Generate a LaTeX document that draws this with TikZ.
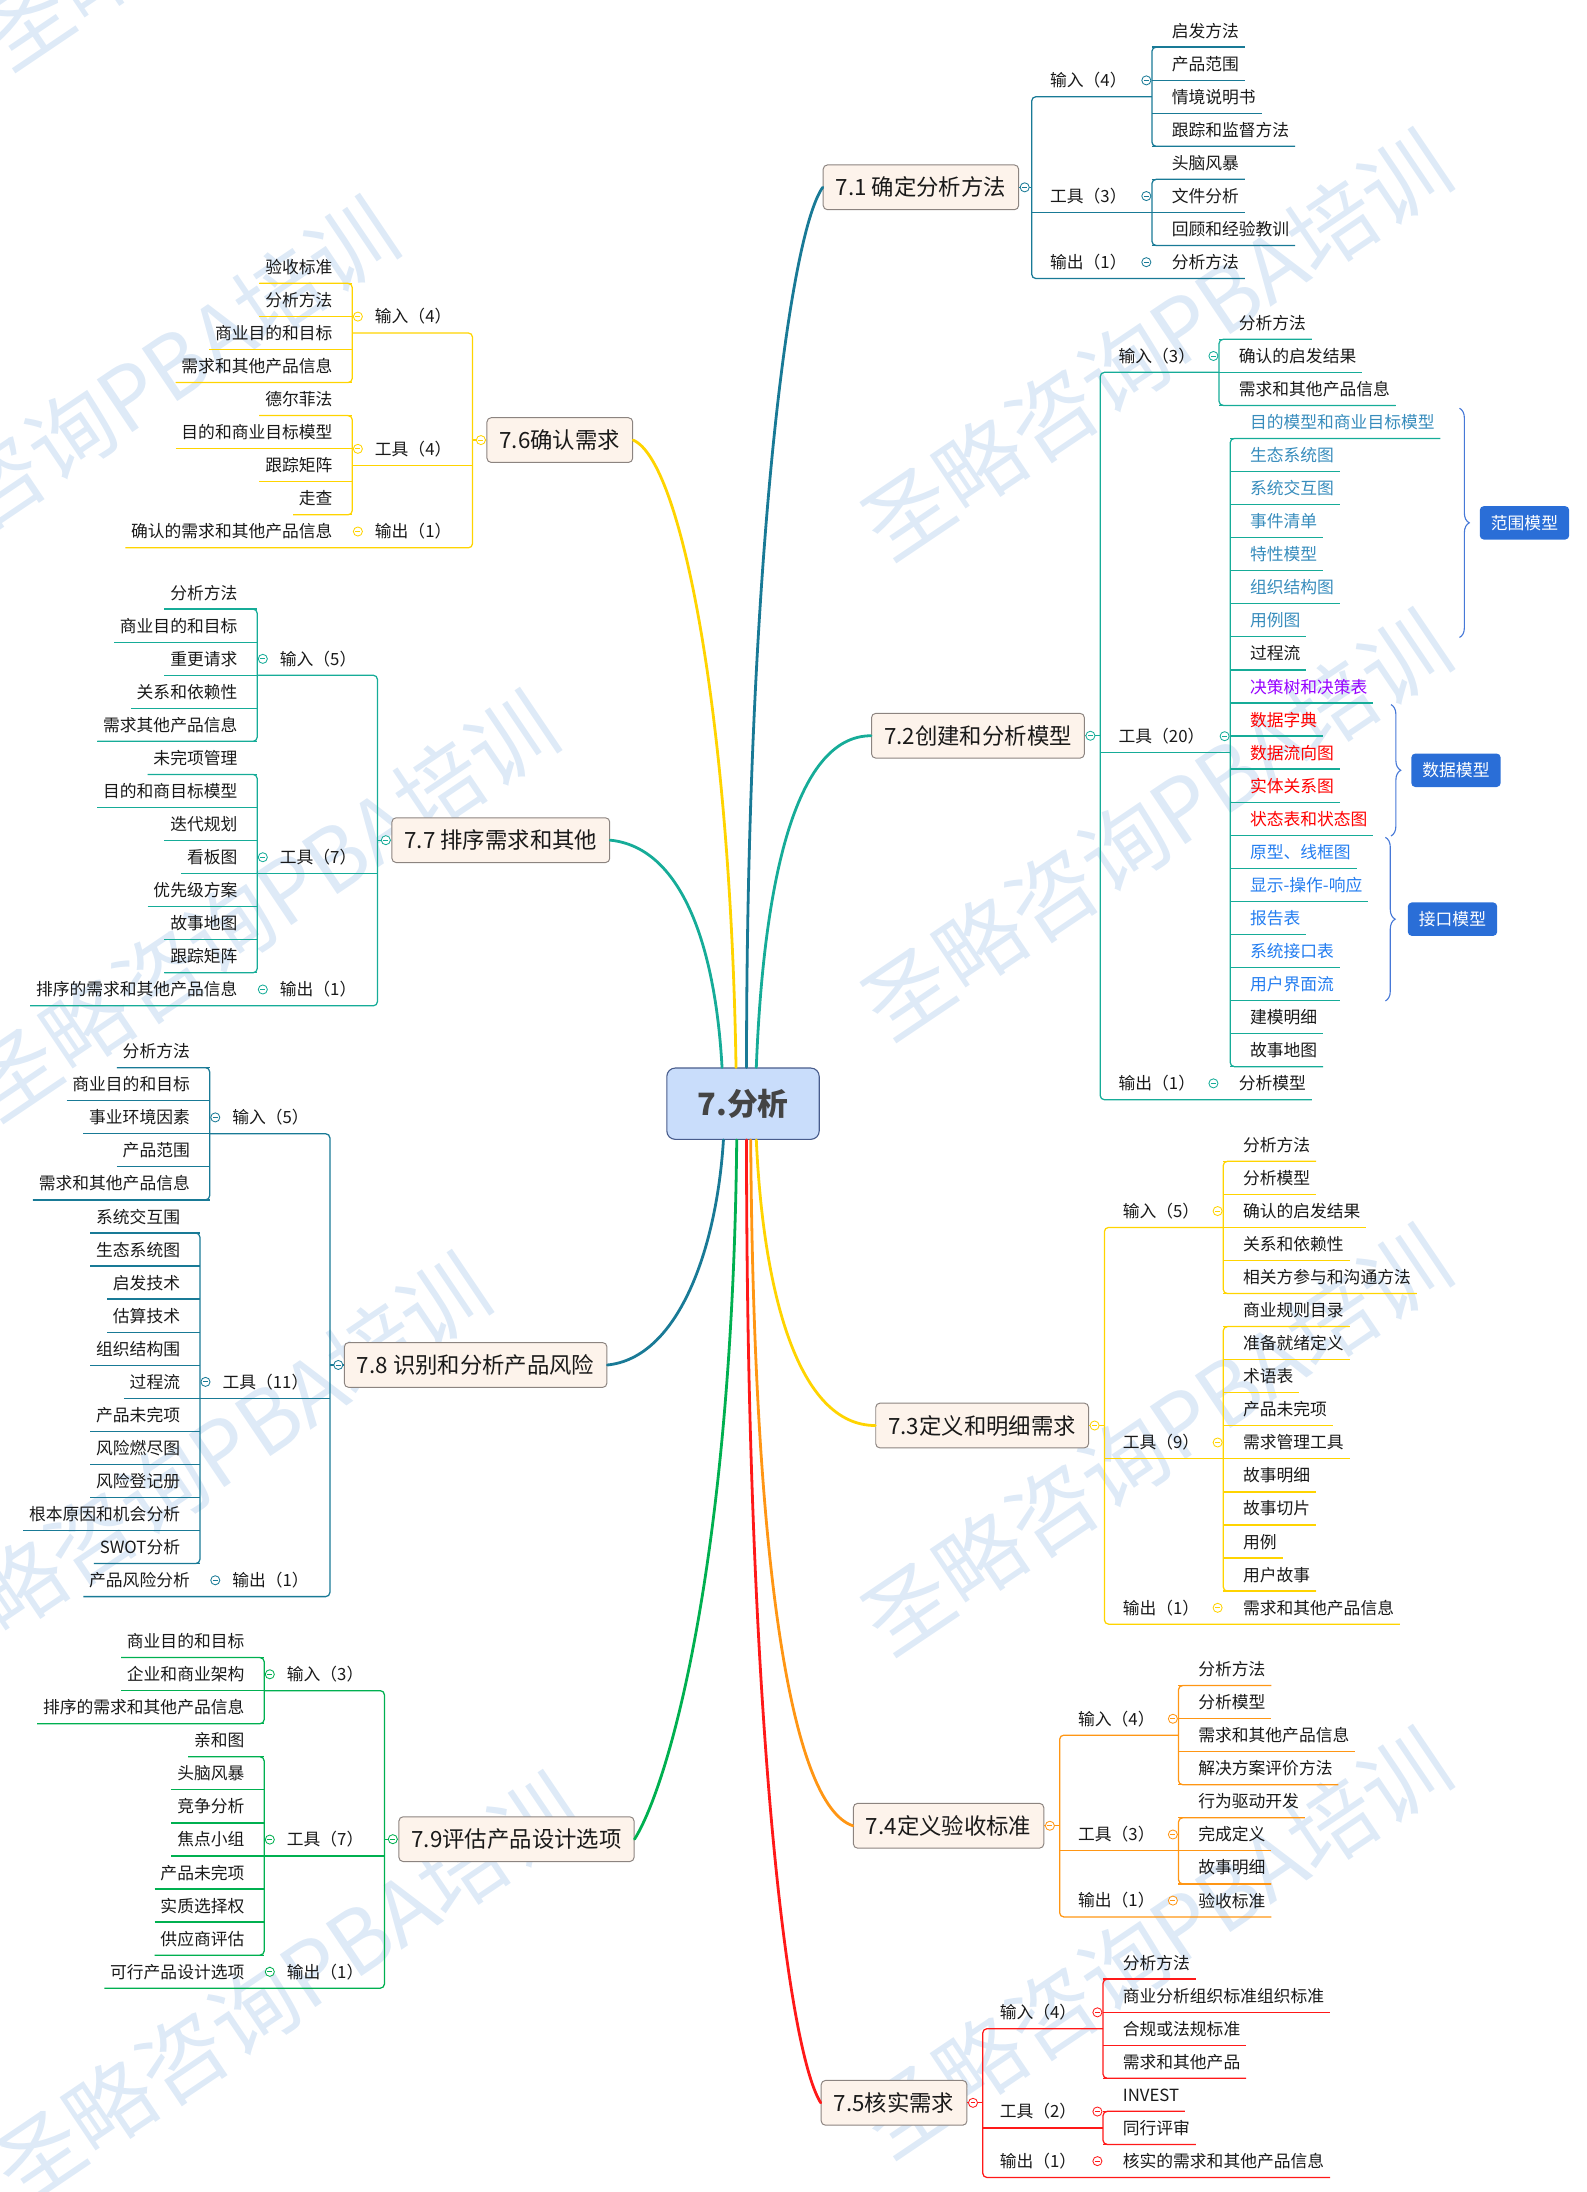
\documentclass[tikz,border=0pt]{standalone}
\usepackage{fontspec}
\setmainfont{Noto Sans CJK SC}
\usetikzlibrary{calc,decorations.pathreplacing}

\definecolor{dteal}{RGB}{25,122,150}
\definecolor{lteal}{RGB}{22,172,152}
\definecolor{myel}{RGB}{255,212,0}
\definecolor{korng}{RGB}{255,150,20}
\definecolor{kred}{RGB}{255,25,25}
\definecolor{kgrn}{RGB}{0,176,80}
\definecolor{tfill}{RGB}{253,243,235}
\definecolor{tline}{RGB}{140,132,128}
\definecolor{hfill}{RGB}{201,221,251}
\definecolor{hline}{RGB}{72,92,140}
\definecolor{htext}{RGB}{68,68,68}
\definecolor{slate}{RGB}{55,140,188}
\definecolor{kblue}{RGB}{35,125,240}
\definecolor{kpurp}{RGB}{150,0,255}
\definecolor{kred2}{RGB}{255,0,0}
\definecolor{tagblue}{RGB}{42,110,215}
\definecolor{brcblue}{RGB}{70,120,215}
\definecolor{wmark}{RGB}{222,234,247}
\definecolor{ink}{RGB}{25,25,25}

\begin{document}
\begin{tikzpicture}[x=1pt, y=-1pt, font=\fontsize{12}{14}\selectfont, text=ink,
  hub/.style={draw=hline, fill=hfill, rounded corners=6pt, line width=0.8pt, minimum width=109pt, minimum height=51pt, font=\fontsize{22}{24}\selectfont\bfseries, text=htext},
  topic/.style={draw=tline, fill=tfill, rounded corners=3pt, line width=0.7pt, minimum height=32pt, inner xsep=9pt, font=\fontsize{16}{18}\selectfont, text=ink},
  leafr/.style={anchor=west, inner xsep=4pt, inner ysep=0pt, minimum height=23pt},
  leafl/.style={anchor=east, inner xsep=4pt, inner ysep=0pt, minimum height=23pt},
  knob/.style={circle, draw=#1, fill=white, line width=0.6pt, inner sep=0pt, minimum size=6.5pt,
    path picture={\draw[#1, line width=0.6pt] ([xshift=1.5pt]path picture bounding box.west) -- ([xshift=-1.5pt]path picture bounding box.east);}},
  arm/.style={draw=#1, line width=0.9pt},
  stem/.style={draw=#1, line width=2pt, line cap=round},
  tag/.style={fill=tagblue, text=white, rounded corners=3pt, minimum height=24pt, inner xsep=8pt},
  brc/.style={draw=brcblue, line width=0.8pt, decorate, decoration={brace, amplitude=7pt}},
  wm/.style={text=wmark, font=\fontsize{62}{62}\selectfont, rotate=34}]
\useasboundingbox (0,0) rectangle (1135,1568);

\foreach \p [count=\i] in {(197,-104),(74,295),(188,648),(140,1050),(205,1422),(827,247),(827,590),(827,1030),(827,1390)}
  \node[wm] (w\i) at \p {圣略咨询PBA培训};

\node[hub] (c) at (531.5,789.5) {7.分析};

\node[topic, anchor=east] (t1) at (729,134) {7.1 确定分析方法};
\node[topic, anchor=east] (t2) at (776,526.3) {7.2创建和分析模型};
\node[topic, anchor=east] (t3) at (779,1019.7) {7.3定义和明细需求};
\node[topic, anchor=east] (t4) at (747,1306) {7.4定义验收标准};
\node[topic, anchor=east] (t5) at (692,1504.2) {7.5核实需求};
\node[topic, anchor=west] (t6) at (348,314.8) {7.6确认需求};
\node[topic, anchor=west] (t7) at (280,601) {7.7 排序需求和其他};
\node[topic, anchor=west] (t8) at (246,976.4) {7.8 识别和分析产品风险};
\node[topic, anchor=west] (t9) at (285,1315.6) {7.9评估产品设计选项};

\draw[stem=lteal] ([xshift=-15pt]c.north) .. controls +(-5,-90) and +(50,5) .. (t7.east);
\draw[stem=myel] ([xshift=-5pt]c.north) .. controls +(-4,-250) and +(35,15) .. (t6.east);
\draw[stem=dteal] ([xshift=2.5pt]c.north) .. controls +(0,-350) and +(-25,35) .. (t1.west);
\draw[stem=lteal] ([xshift=9.5pt]c.north) .. controls +(5,-130) and +(-55,0) .. (t2.west);
\draw[stem=dteal] ([xshift=-14pt]c.south) .. controls +(-5,80) and +(50,-5) .. (t8.east);
\draw[stem=kgrn] ([xshift=-4.5pt]c.south) .. controls +(-3,300) and +(25,-40) .. (t9.east);
\draw[stem=kred] ([xshift=2.5pt]c.south) .. controls +(0,400) and +(-25,-40) .. (t5.west);
\draw[stem=korng] ([xshift=5.5pt]c.south) .. controls +(2,300) and +(-45,-15) .. (t4.west);
\draw[stem=myel] ([xshift=9.5pt]c.south) .. controls +(5,110) and +(-55,0) .. (t3.west);

\coordinate (t1k) at (738,134);
\coordinate (t1x) at (824,0);
\node[leafr] (t1in) at (747,57.5) {输入（4）};
\node[leafr] (t1tl) at (747,140.25) {工具（3）};
\node[leafr] (t1out) at (747,187.55) {输出（1）};
\foreach \txt [count=\i from 0] in {启发方法,产品范围,情境说明书,跟踪和监督方法} {
  \node[leafr] (t1a\i) at (834,{22+23.65*\i}) {\txt};
  \draw[arm=dteal] (t1x |- t1a\i.south) -- (t1a\i.south east);
}
\foreach \txt [count=\i from 4] in {头脑风暴,文件分析,回顾和经验教训} {
  \node[leafr] (t1b\i) at (834,{22+23.65*\i}) {\txt};
  \draw[arm=dteal] (t1x |- t1b\i.south) -- (t1b\i.south east);
}
\node[leafr] (t1c) at (834,187.55) {分析方法};
\draw[arm=dteal, rounded corners=3pt] (t1a0.south east) -- (t1x |- t1a0.south) -- (t1x |- t1a3.south) -- (t1a3.south east);
\draw[arm=dteal, rounded corners=3pt] (t1b4.south east) -- (t1x |- t1b4.south) -- (t1x |- t1b6.south) -- (t1b6.south east);
\draw[arm=dteal, rounded corners=3pt] (t1x |- t1in.south) -- (t1k |- t1in.south) -- (t1k |- t1out.south) -- (t1c.south east);
\draw[arm=dteal] (t1k |- t1tl.south) -- (t1x |- t1tl.south);
\draw[arm=dteal] (t1.east) -- (t1k);
\node[knob=dteal, xshift=4pt] (t1m) at (t1.east) {};
\node[knob=dteal, xshift=-4pt] (t1inm) at (t1x |- t1in) {};
\node[knob=dteal, xshift=-4pt] (t1tlm) at (t1x |- t1tl) {};
\node[knob=dteal, xshift=-4pt] (t1outm) at (t1x |- t1out) {};

\coordinate (t2k) at (787,526.3);
\coordinate (t2x) at (872,0);
\coordinate (t2y) at (880,0);
\node[leafr] (t2in) at (796,254.65) {输入（3）};
\node[leafr] (t2tl) at (796,526.625) {工具（20）};
\node[leafr] (t2out) at (796,774.95) {输出（1）};
\foreach \txt [count=\i from 0] in {分析方法,确认的启发结果,需求和其他产品信息} {
  \node[leafr] (t2a\i) at (882,{231+23.65*\i}) {\txt};
  \draw[arm=lteal] (t2x |- t2a\i.south) -- (t2a\i.south east);
}
\foreach \txt/\col [count=\i from 3] in {目的模型和商业目标模型/slate,生态系统图/slate,系统交互图/slate,事件清单/slate,特性模型/slate,组织结构图/slate,用例图/slate,过程流/ink,决策树和决策表/kpurp,数据字典/kred2,数据流向图/kred2,实体关系图/kred2,状态表和状态图/kred2,原型、线框图/kblue,显示-操作-响应/kblue,报告表/kblue,系统接口表/kblue,用户界面流/kblue,建模明细/ink,故事地图/ink} {
  \node[leafr, text=\col] (t2b\i) at (890,{231+23.65*\i}) {\txt};
  \draw[arm=lteal] (t2y |- t2b\i.south) -- (t2b\i.south east);
}
\node[leafr] (t2c) at (882,774.95) {分析模型};
\draw[arm=lteal, rounded corners=3pt] (t2a0.south east) -- (t2x |- t2a0.south) -- (t2x |- t2a2.south) -- (t2a2.south east);
\draw[arm=lteal, rounded corners=3pt] (t2b3.south east) -- (t2y |- t2b3.south) -- (t2y |- t2b22.south) -- (t2b22.south east);
\draw[arm=lteal, rounded corners=3pt] (t2x |- t2in.south) -- (t2k |- t2in.south) -- (t2k |- t2out.south) -- (t2c.south east);
\draw[arm=lteal] (t2k |- t2tl.south) -- (t2y |- t2tl.south);
\draw[arm=lteal] (t2.east) -- (t2k);
\node[knob=lteal, xshift=4pt] (t2m) at (t2.east) {};
\node[knob=lteal, xshift=-4pt] (t2inm) at (t2x |- t2in) {};
\node[knob=lteal, xshift=-4pt] (t2tlm) at (t2y |- t2tl) {};
\node[knob=lteal, xshift=-4pt] (t2outm) at (t2x |- t2out) {};
\coordinate (b1t) at (1044,292);
\coordinate (b1b) at (1044,456);
\coordinate (b2t) at (995,504);
\coordinate (b2b) at (995,598);
\coordinate (b3t) at (991,599);
\coordinate (b3b) at (991,716);
\draw[brc] (b1t) -- (b1b);
\draw[brc] (b2t) -- (b2b);
\draw[brc] (b3t) -- (b3b);
\node[tag] (g1) at (1090.5,374) {范围模型};
\node[tag] (g2) at (1041.5,551) {数据模型};
\node[tag] (g3) at (1039,657.5) {接口模型};

\coordinate (t3k) at (790,1019.7);
\coordinate (t3x) at (875,0);
\node[leafr] (t3in) at (799,866.3) {输入（5）};
\node[leafr] (t3tl) at (799,1031.85) {工具（9）};
\node[leafr] (t3out) at (799,1150.1) {输出（1）};
\foreach \txt [count=\i from 0] in {分析方法,分析模型,确认的启发结果,关系和依赖性,相关方参与和沟通方法} {
  \node[leafr] (t3a\i) at (885,{819+23.65*\i}) {\txt};
  \draw[arm=myel] (t3x |- t3a\i.south) -- (t3a\i.south east);
}
\foreach \txt [count=\i from 5] in {商业规则目录,准备就绪定义,术语表,产品未完项,需求管理工具,故事明细,故事切片,用例,用户故事} {
  \node[leafr] (t3b\i) at (885,{819+23.65*\i}) {\txt};
  \draw[arm=myel] (t3x |- t3b\i.south) -- (t3b\i.south east);
}
\node[leafr] (t3c) at (885,1150.1) {需求和其他产品信息};
\draw[arm=myel, rounded corners=3pt] (t3a0.south east) -- (t3x |- t3a0.south) -- (t3x |- t3a4.south) -- (t3a4.south east);
\draw[arm=myel, rounded corners=3pt] (t3b5.south east) -- (t3x |- t3b5.south) -- (t3x |- t3b13.south) -- (t3b13.south east);
\draw[arm=myel, rounded corners=3pt] (t3x |- t3in.south) -- (t3k |- t3in.south) -- (t3k |- t3out.south) -- (t3c.south east);
\draw[arm=myel] (t3k |- t3tl.south) -- (t3x |- t3tl.south);
\draw[arm=myel] (t3.east) -- (t3k);
\node[knob=myel, xshift=4pt] (t3m) at (t3.east) {};
\node[knob=myel, xshift=-4pt] (t3inm) at (t3x |- t3in) {};
\node[knob=myel, xshift=-4pt] (t3tlm) at (t3x |- t3tl) {};
\node[knob=myel, xshift=-4pt] (t3outm) at (t3x |- t3out) {};

\coordinate (t4k) at (758,1306);
\coordinate (t4x) at (843,0);
\node[leafr] (t4in) at (767,1229.475) {输入（4）};
\node[leafr] (t4tl) at (767,1312.25) {工具（3）};
\node[leafr] (t4out) at (767,1359.55) {输出（1）};
\foreach \txt [count=\i from 0] in {分析方法,分析模型,需求和其他产品信息,解决方案评价方法} {
  \node[leafr] (t4a\i) at (853,{1194+23.65*\i}) {\txt};
  \draw[arm=korng] (t4x |- t4a\i.south) -- (t4a\i.south east);
}
\foreach \txt [count=\i from 4] in {行为驱动开发,完成定义,故事明细} {
  \node[leafr] (t4b\i) at (853,{1194+23.65*\i}) {\txt};
  \draw[arm=korng] (t4x |- t4b\i.south) -- (t4b\i.south east);
}
\node[leafr] (t4c) at (853,1359.55) {验收标准};
\draw[arm=korng, rounded corners=3pt] (t4a0.south east) -- (t4x |- t4a0.south) -- (t4x |- t4a3.south) -- (t4a3.south east);
\draw[arm=korng, rounded corners=3pt] (t4b4.south east) -- (t4x |- t4b4.south) -- (t4x |- t4b6.south) -- (t4b6.south east);
\draw[arm=korng, rounded corners=3pt] (t4x |- t4in.south) -- (t4k |- t4in.south) -- (t4k |- t4out.south) -- (t4c.south east);
\draw[arm=korng] (t4k |- t4tl.south) -- (t4x |- t4tl.south);
\draw[arm=korng] (t4.east) -- (t4k);
\node[knob=korng, xshift=4pt] (t4m) at (t4.east) {};
\node[knob=korng, xshift=-4pt] (t4inm) at (t4x |- t4in) {};
\node[knob=korng, xshift=-4pt] (t4tlm) at (t4x |- t4tl) {};
\node[knob=korng, xshift=-4pt] (t4outm) at (t4x |- t4out) {};

\coordinate (t5k) at (703,1504.2);
\coordinate (t5x) at (789,0);
\node[leafr] (t5in) at (711,1439.475) {输入（4）};
\node[leafr] (t5tl) at (711,1510.425) {工具（2）};
\node[leafr] (t5out) at (711,1545.9) {输出（1）};
\foreach \txt [count=\i from 0] in {分析方法,商业分析组织标准组织标准,合规或法规标准,需求和其他产品} {
  \node[leafr] (t5a\i) at (799,{1404+23.65*\i}) {\txt};
  \draw[arm=kred] (t5x |- t5a\i.south) -- (t5a\i.south east);
}
\foreach \txt [count=\i from 4] in {INVEST,同行评审} {
  \node[leafr] (t5b\i) at (799,{1404+23.65*\i}) {\txt};
  \draw[arm=kred] (t5x |- t5b\i.south) -- (t5b\i.south east);
}
\node[leafr] (t5c) at (799,1545.9) {核实的需求和其他产品信息};
\draw[arm=kred, rounded corners=3pt] (t5a0.south east) -- (t5x |- t5a0.south) -- (t5x |- t5a3.south) -- (t5a3.south east);
\draw[arm=kred, rounded corners=3pt] (t5b4.south east) -- (t5x |- t5b4.south) -- (t5x |- t5b5.south) -- (t5b5.south east);
\draw[arm=kred, rounded corners=3pt] (t5x |- t5in.south) -- (t5k |- t5in.south) -- (t5k |- t5out.south) -- (t5c.south east);
\draw[arm=kred] (t5k |- t5tl.south) -- (t5x |- t5tl.south);
\draw[arm=kred] (t5.east) -- (t5k);
\node[knob=kred, xshift=4pt] (t5m) at (t5.east) {};
\node[knob=kred, xshift=-4pt] (t5inm) at (t5x |- t5in) {};
\node[knob=kred, xshift=-4pt] (t5tlm) at (t5x |- t5tl) {};
\node[knob=kred, xshift=-4pt] (t5outm) at (t5x |- t5out) {};

\coordinate (t6k) at (338,314.8);
\coordinate (t6x) at (252,0);
\node[leafr] (t6in) at (264,226.475) {输入（4）};
\node[leafr] (t6tl) at (264,321.075) {工具（4）};
\node[leafr] (t6out) at (264,380.2) {输出（1）};
\foreach \txt [count=\i from 0] in {验收标准,分析方法,商业目的和目标,需求和其他产品信息} {
  \node[leafl] (t6a\i) at (242,{191+23.65*\i}) {\txt};
  \draw[arm=myel] (t6a\i.south west) -- (t6x |- t6a\i.south);
}
\foreach \txt [count=\i from 4] in {德尔菲法,目的和商业目标模型,跟踪矩阵,走查} {
  \node[leafl] (t6b\i) at (242,{191+23.65*\i}) {\txt};
  \draw[arm=myel] (t6b\i.south west) -- (t6x |- t6b\i.south);
}
\node[leafl] (t6c) at (242,380.2) {确认的需求和其他产品信息};
\draw[arm=myel, rounded corners=3pt] (t6a0.south west) -- (t6x |- t6a0.south) -- (t6x |- t6a3.south) -- (t6a3.south west);
\draw[arm=myel, rounded corners=3pt] (t6b4.south west) -- (t6x |- t6b4.south) -- (t6x |- t6b7.south) -- (t6b7.south west);
\draw[arm=myel, rounded corners=3pt] (t6x |- t6in.south) -- (t6k |- t6in.south) -- (t6k |- t6out.south) -- (t6c.south west);
\draw[arm=myel] (t6x |- t6tl.south) -- (t6k |- t6tl.south);
\draw[arm=myel] (t6.west) -- (t6k);
\node[knob=myel, xshift=-4pt] (t6m) at (t6.west) {};
\node[knob=myel, xshift=4pt] (t6inm) at (t6x |- t6in) {};
\node[knob=myel, xshift=4pt] (t6tlm) at (t6x |- t6tl) {};
\node[knob=myel, xshift=4pt] (t6outm) at (t6x |- t6out) {};

\coordinate (t7k) at (270,601);
\coordinate (t7x) at (184,0);
\node[leafr] (t7in) at (196,471.3) {输入（5）};
\node[leafr] (t7tl) at (196,613.2) {工具（7）};
\node[leafr] (t7out) at (196,707.8) {输出（1）};
\foreach \txt [count=\i from 0] in {分析方法,商业目的和目标,重更请求,关系和依赖性,需求其他产品信息} {
  \node[leafl] (t7a\i) at (174,{424+23.65*\i}) {\txt};
  \draw[arm=lteal] (t7a\i.south west) -- (t7x |- t7a\i.south);
}
\foreach \txt [count=\i from 5] in {未完项管理,目的和商目标模型,迭代规划,看板图,优先级方案,故事地图,跟踪矩阵} {
  \node[leafl] (t7b\i) at (174,{424+23.65*\i}) {\txt};
  \draw[arm=lteal] (t7b\i.south west) -- (t7x |- t7b\i.south);
}
\node[leafl] (t7c) at (174,707.8) {排序的需求和其他产品信息};
\draw[arm=lteal, rounded corners=3pt] (t7a0.south west) -- (t7x |- t7a0.south) -- (t7x |- t7a4.south) -- (t7a4.south west);
\draw[arm=lteal, rounded corners=3pt] (t7b5.south west) -- (t7x |- t7b5.south) -- (t7x |- t7b11.south) -- (t7b11.south west);
\draw[arm=lteal, rounded corners=3pt] (t7x |- t7in.south) -- (t7k |- t7in.south) -- (t7k |- t7out.south) -- (t7c.south west);
\draw[arm=lteal] (t7x |- t7tl.south) -- (t7k |- t7tl.south);
\draw[arm=lteal] (t7.west) -- (t7k);
\node[knob=lteal, xshift=-4pt] (t7m) at (t7.west) {};
\node[knob=lteal, xshift=4pt] (t7inm) at (t7x |- t7in) {};
\node[knob=lteal, xshift=4pt] (t7tlm) at (t7x |- t7tl) {};
\node[knob=lteal, xshift=4pt] (t7outm) at (t7x |- t7out) {};

\coordinate (t8k) at (236,976.4);
\coordinate (t8x) at (150,0);
\coordinate (t8y) at (143,0);
\node[leafr] (t8in) at (162,799.3) {输入（5）};
\node[leafr] (t8tl) at (155,988.5) {工具（11）};
\node[leafr] (t8out) at (162,1130.4) {输出（1）};
\foreach \txt [count=\i from 0] in {分析方法,商业目的和目标,事业环境因素,产品范围,需求和其他产品信息} {
  \node[leafl] (t8a\i) at (140,{752+23.65*\i}) {\txt};
  \draw[arm=dteal] (t8a\i.south west) -- (t8x |- t8a\i.south);
}
\foreach \txt [count=\i from 5] in {系统交互围,生态系统图,启发技术,估算技术,组织结构围,过程流,产品未完项,风险燃尽图,风险登记册,根本原因和机会分析,SWOT分析} {
  \node[leafl] (t8b\i) at (133,{752+23.65*\i}) {\txt};
  \draw[arm=dteal] (t8b\i.south west) -- (t8y |- t8b\i.south);
}
\node[leafl] (t8c) at (140,1130.4) {产品风险分析};
\draw[arm=dteal, rounded corners=3pt] (t8a0.south west) -- (t8x |- t8a0.south) -- (t8x |- t8a4.south) -- (t8a4.south west);
\draw[arm=dteal, rounded corners=3pt] (t8b5.south west) -- (t8y |- t8b5.south) -- (t8y |- t8b15.south) -- (t8b15.south west);
\draw[arm=dteal, rounded corners=3pt] (t8x |- t8in.south) -- (t8k |- t8in.south) -- (t8k |- t8out.south) -- (t8c.south west);
\draw[arm=dteal] (t8y |- t8tl.south) -- (t8k |- t8tl.south);
\draw[arm=dteal] (t8.west) -- (t8k);
\node[knob=dteal, xshift=-4pt] (t8m) at (t8.west) {};
\node[knob=dteal, xshift=4pt] (t8inm) at (t8x |- t8in) {};
\node[knob=dteal, xshift=4pt] (t8tlm) at (t8y |- t8tl) {};
\node[knob=dteal, xshift=4pt] (t8outm) at (t8x |- t8out) {};

\coordinate (t9k) at (275,1315.6);
\coordinate (t9x) at (189,0);
\node[leafr] (t9in) at (201,1197.65) {输入（3）};
\node[leafr] (t9tl) at (201,1315.9) {工具（7）};
\node[leafr] (t9out) at (201,1410.5) {输出（1）};
\foreach \txt [count=\i from 0] in {商业目的和目标,企业和商业架构,排序的需求和其他产品信息} {
  \node[leafl] (t9a\i) at (179,{1174+23.65*\i}) {\txt};
  \draw[arm=kgrn] (t9a\i.south west) -- (t9x |- t9a\i.south);
}
\foreach \txt [count=\i from 3] in {亲和图,头脑风暴,竞争分析,焦点小组,产品未完项,实质选择权,供应商评估} {
  \node[leafl] (t9b\i) at (179,{1174+23.65*\i}) {\txt};
  \draw[arm=kgrn] (t9b\i.south west) -- (t9x |- t9b\i.south);
}
\node[leafl] (t9c) at (179,1410.5) {可行产品设计选项};
\draw[arm=kgrn, rounded corners=3pt] (t9a0.south west) -- (t9x |- t9a0.south) -- (t9x |- t9a2.south) -- (t9a2.south west);
\draw[arm=kgrn, rounded corners=3pt] (t9b3.south west) -- (t9x |- t9b3.south) -- (t9x |- t9b9.south) -- (t9b9.south west);
\draw[arm=kgrn, rounded corners=3pt] (t9x |- t9in.south) -- (t9k |- t9in.south) -- (t9k |- t9out.south) -- (t9c.south west);
\draw[arm=kgrn] (t9x |- t9tl.south) -- (t9k |- t9tl.south);
\draw[arm=kgrn] (t9.west) -- (t9k);
\node[knob=kgrn, xshift=-4pt] (t9m) at (t9.west) {};
\node[knob=kgrn, xshift=4pt] (t9inm) at (t9x |- t9in) {};
\node[knob=kgrn, xshift=4pt] (t9tlm) at (t9x |- t9tl) {};
\node[knob=kgrn, xshift=4pt] (t9outm) at (t9x |- t9out) {};
\end{tikzpicture}
\end{document}
